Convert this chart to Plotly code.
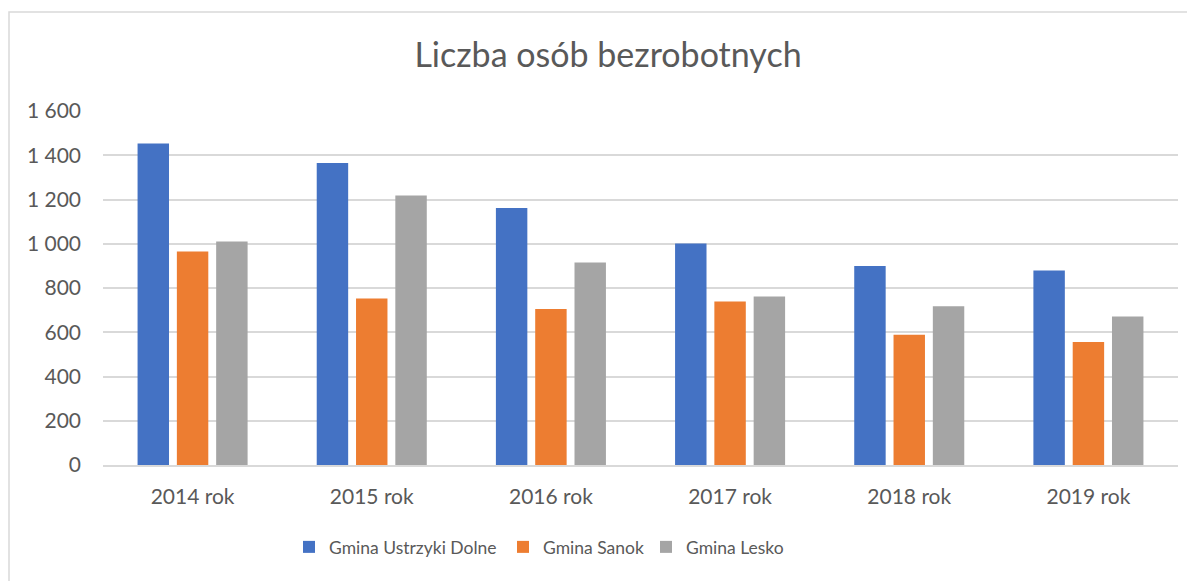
import plotly.graph_objects as go

years = ["2014 rok", "2015 rok", "2016 rok", "2017 rok", "2018 rok", "2019 rok"]
ustrzyki = [1453, 1365, 1162, 1001, 899, 879]
sanok = [965, 752, 705, 739, 589, 556]
lesko = [1010, 1218, 915, 762, 717, 671]

series_names = ["Gmina Ustrzyki Dolne", "Gmina Sanok", "Gmina Lesko"]
colors = ["#4472C4", "#ED7D31", "#A5A5A5"]
y_ticks = [0, 200, 400, 600, 800, 1000, 1200, 1400, 1600]

OFF = 8  # page body margin
W, H = 1195 - OFF, 581 - OFF
L, R, T, B = 103 - OFF, 17, 111 - OFF, 116
pw, ph = W - L - R, H - T - B

def px_x(x):
    return (x - OFF - L) / pw

def px_y(y):
    return (H - B - (y - OFF)) / ph

FONT = "Lato"
TXT = "#595959"

fig = go.Figure()
legends = ["legend", "legend2", "legend3"]
for name, vals, col, lg in zip(series_names, [ustrzyki, sanok, lesko], colors, legends):
    fig.add_trace(go.Bar(x=years, y=vals, name=name, marker=dict(color=col, line=dict(width=0)),
                         legend=lg))

legend_left = [303, 517, 660]
common_leg = dict(orientation="h", yanchor="middle", xanchor="left", y=px_y(547),
                  font=dict(family=FONT, size=17.5, color=TXT), bgcolor="rgba(0,0,0,0)",
                  itemwidth=30, tracegroupgap=0)
fig.update_layout(
    legend=dict(x=px_x(legend_left[0] - 14), **common_leg),
    legend2=dict(x=px_x(legend_left[1] - 14), **common_leg),
    legend3=dict(x=px_x(legend_left[2] - 14), **common_leg),
)

fig.update_layout(
    width=W, height=H,
    margin=dict(l=L, r=R, t=T, b=B, pad=0),
    paper_bgcolor="white", plot_bgcolor="white",
    separators=", ",
    barmode="group", bargap=0.342, bargroupgap=0.2,
    title=dict(text="Liczba osób bezrobotnych", x=(608 - OFF) / W, xanchor="center",
               y=1 - (55 - OFF) / H, yanchor="middle",
               font=dict(family=FONT, size=34, color=TXT)),
    font=dict(family=FONT, color=TXT),
    showlegend=True,
)

fig.update_yaxes(range=[0, 1600], tickvals=y_ticks, tickformat=",d",
                 showgrid=True, gridcolor="#D9D9D9", gridwidth=1.5,
                 zeroline=False, showline=False, ticks="",
                 tickfont=dict(family=FONT, size=21, color=TXT),
                 ticklabelstandoff=21, fixedrange=True)
fig.update_xaxes(showgrid=False, showline=True, linecolor="#D9D9D9", linewidth=2,
                 ticks="", tickfont=dict(family=FONT, size=21, color=TXT),
                 ticklabelstandoff=12, fixedrange=True)

# chart area border
fig.add_shape(type="rect", xref="paper", yref="paper",
              x0=px_x(9), x1=px_x(1210), y0=px_y(590), y1=px_y(12),
              line=dict(color="#D9D9D9", width=1.5), fillcolor="rgba(0,0,0,0)", layer="below")

fig.write_html("out.html", config={"displayModeBar": False})
